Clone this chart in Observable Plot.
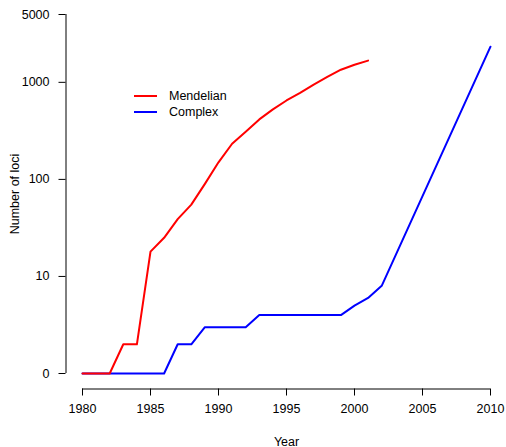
<!DOCTYPE html>
<html>
<head>
<meta charset="utf-8">
<script src="https://cdn.jsdelivr.net/npm/d3@7"></script>
<script src="https://cdn.jsdelivr.net/npm/@observablehq/plot@0.6"></script>
<style>
  body { margin: 0; background: #fff; font-family: "Liberation Sans", Arial, Helvetica, sans-serif; }
  #wrap { position: relative; width: 506px; height: 447px; }
  #legend { position: absolute; left: 134px; top: 88px; font-size: 12.5px; color: #000; }
  .item { display: flex; align-items: center; height: 15.7px; }
  .sw { width: 23px; height: 0; border-top: 2px solid; margin-right: 12px; }
</style>
</head>
<body>
<div id="wrap"></div>
<script>
const seriesNames = ["Mendelian", "Complex"];
const seriesColors = ["#ff0000", "#0000ff"];

const mendelianYears = [1980,1981,1982,1983,1984,1985,1986,1987,1988,1989,1990,1991,1992,1993,1994,1995,1996,1997,1998,1999,2000,2001];
const mendelianLoci  = [0,0,0,2,2,18,25,39,55,90,150,233,309,415,526,650,777,949,1137,1350,1516,1675];

const complexYears = [1980,1981,1982,1983,1984,1985,1986,1987,1988,1989,1990,1991,1992,1993,1994,1995,1996,1997,1998,1999,2000,2001,2002,2010];
const complexLoci  = [0,0,0,0,0,0,0,2,2,3,3,3,3,4,4,4,4,4,4,4,5,6,8,2330];

const xTicks = [1980,1985,1990,1995,2000,2005,2010];
const yTicks = [0,10,100,1000,5000];
const xDomain = [1980, 2010];
const yDomain = [1, 5000];

// zero is drawn at the bottom of the log axis (value 1)
const pos = v => Math.max(v, 1);

const mendelianRows = mendelianYears.map((yr, i) => ({year: yr, loci: mendelianLoci[i], series: seriesNames[0]}));
const complexRows = complexYears.map((yr, i) => ({year: yr, loci: complexLoci[i], series: seriesNames[1]}));

const FS = 12.5;

const chart = Plot.plot({
  width: 506,
  height: 447,
  marginLeft: 82,
  marginRight: 16,
  marginTop: 14,
  marginBottom: 74,
  style: {fontFamily: '"Liberation Sans", Arial, Helvetica, sans-serif', fontSize: FS + "px", background: "#fff", color: "#000", overflow: "visible"},
  x: {type: "linear", domain: xDomain},
  y: {type: "log", domain: yDomain},
  color: {domain: seriesNames, range: seriesColors},
  marks: [
    // y axis spine, ticks and labels (offset like base R)
    Plot.ruleX([xDomain[0]], {y1: yDomain[0], y2: yDomain[1], dx: -16.5, stroke: "#000"}),
    Plot.axisY(yTicks.map(pos), {text: null, dx: -16.5, tickSize: 7, label: null, stroke: "#000"}),
    Plot.text(yTicks, {y: pos, x: () => xDomain[0], text: d => String(d), dx: -33, textAnchor: "end", lineAnchor: "middle", fontSize: FS, fill: "#000"}),
    // x axis spine and ticks
    Plot.ruleY([yDomain[0]], {x1: xDomain[0], x2: xDomain[1], dy: 15.5, stroke: "#000"}),
    Plot.axisX(xTicks, {tickFormat: d => String(d), dy: 15.5, tickSize: 7, tickPadding: 8, fontSize: FS, label: null, stroke: "#000", fill: "#000"}),
    Plot.line(complexRows, {x: "year", y: d => pos(d.loci), stroke: "series", strokeWidth: 2}),
    Plot.line(mendelianRows, {x: "year", y: d => pos(d.loci), stroke: "series", strokeWidth: 2}),
    Plot.text(["Year"], {frameAnchor: "bottom", dy: 68, lineAnchor: "middle", fontSize: FS, fill: "#000"}),
    Plot.text(["Number of loci"], {frameAnchor: "left", dx: -68, rotate: -90, textAnchor: "middle", lineAnchor: "middle", fontSize: FS, fill: "#000"})
  ]
});

const wrap = document.getElementById("wrap");
wrap.appendChild(chart);

const legend = document.createElement("div");
legend.id = "legend";
seriesNames.forEach((name, i) => {
  const item = document.createElement("div");
  item.className = "item";
  const sw = document.createElement("span");
  sw.className = "sw";
  sw.style.borderTopColor = seriesColors[i];
  const label = document.createElement("span");
  label.textContent = name;
  item.appendChild(sw);
  item.appendChild(label);
  legend.appendChild(item);
});
wrap.appendChild(legend);
</script>
</body>
</html>
